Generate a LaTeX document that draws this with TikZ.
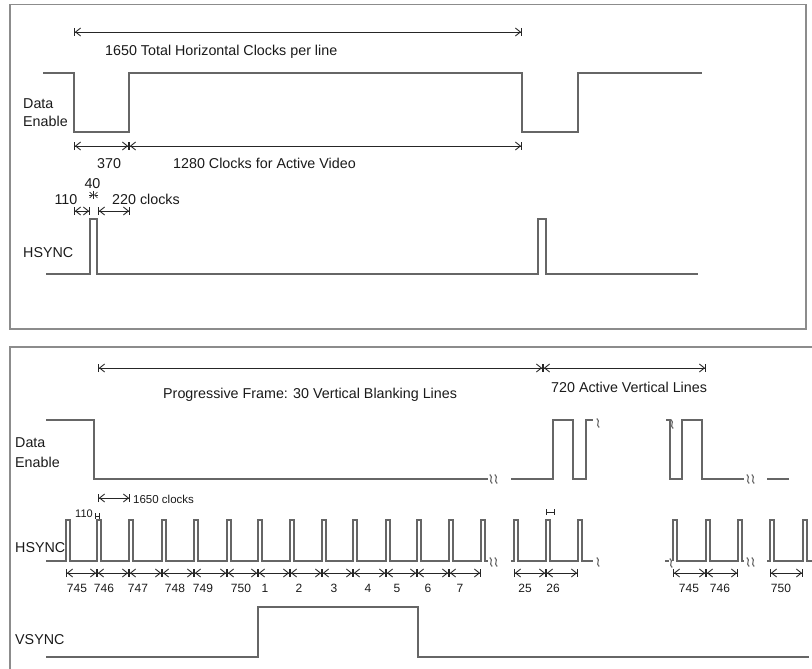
\documentclass[tikz,border=0pt]{standalone}
\usepackage{fontspec}
\setmainfont{Liberation Sans}
\usetikzlibrary{arrows.meta}
\definecolor{framec}{HTML}{8C8C8C}
\definecolor{sigc}{HTML}{666666}
\definecolor{dimc}{HTML}{262626}
\definecolor{txtc}{HTML}{1A1A1A}
\tikzset{
  frm/.style={draw=framec, line width=1.4pt},
  sig/.style={draw=sigc, line width=1.3pt, line join=miter},
  dimarrow/.style={draw=dimc, line width=0.9pt,
    {Bar[width=8pt]Straight Barb[length=5pt,width=8pt]}-{Straight Barb[length=5pt,width=8pt]Bar[width=8pt]}},
  tinymark/.style={draw=dimc, line width=0.7pt, {Bar[width=6pt]}-{Bar[width=6pt]}},
  lbl/.style={text=txtc, inner sep=0pt, font=\fontsize{14.3}{16}\selectfont},
  num/.style={text=txtc, inner sep=0pt, anchor=base, font=\fontsize{12}{14}\selectfont},
  brk/.pic={\draw[sigc, line width=1.1pt] (-1.2,-4.5) .. controls (3,-1.5) and (-3,1.5) .. (1.2,4.5);},
}
\begin{document}
\begin{tikzpicture}[x=1pt,y=-1pt]
\useasboundingbox (0,0) rectangle (812,669);
% ================= TOP PANEL =================
\draw[frm] (10,4.5) rectangle (806,329);
\coordinate (tA) at (74,32); \coordinate (tB) at (522,32);
\draw[dimarrow] (tA) -- (tB);
\node[lbl, anchor=base west] (ttot) at (105,56) {1650 Total Horizontal Clocks per line};
\node[lbl, anchor=base west] (tde1) at (23,108) {Data};
\node[lbl, anchor=base west] (tde2) at (23,127) {Enable};
\draw[sig] (43,73) -- (74,73) -- (74,132) -- (129,132) -- (129,73) -- (522,73) -- (522,132) -- (578,132) -- (578,73) -- (702,73);
\coordinate (aA) at (74,146); \coordinate (aB) at (129,146); \coordinate (aC) at (522,146);
\draw[dimarrow] (aA) -- (aB);
\draw[dimarrow] (aB) -- (aC);
\node[lbl, anchor=base west] (t370) at (97,168) {370};
\node[lbl, anchor=base west] (t1280) at (173,168) {1280 Clocks for Active Video};
\node[lbl, anchor=base] (t40) at (92.5,188) {40};
\node[lbl, anchor=base] (t110) at (66,204) {110};
\node[lbl, anchor=base west] (t220) at (112,204) {220 clocks};
\coordinate (hA) at (74,211); \coordinate (hB) at (90,211);
\coordinate (hC) at (98,211); \coordinate (hD) at (130,211);
\draw[dimarrow] (hA) -- (hB);
\draw[dimarrow] (hC) -- (hD);
\draw[dimc, line width=0.7pt] (93.5,191) -- (93.5,199);
\draw[dimc, line width=0.7pt, -{Straight Barb[length=3pt,width=6pt]}] (89,195) -- (93,195);
\draw[dimc, line width=0.7pt, -{Straight Barb[length=3pt,width=6pt]}] (98,195) -- (94,195);
\node[lbl, anchor=base west] (ths) at (23,257) {HSYNC};
\draw[sig] (46,274) -- (90,274) -- (90,219) -- (97,219) -- (97,274) -- (538,274) -- (538,219) -- (546,219) -- (546,274) -- (698,274);
% ================= BOTTOM PANEL =================
\draw[frm] (815,347) -- (10,347) -- (10,672);
\coordinate (bA) at (98,368); \coordinate (bB) at (543,368); \coordinate (bC) at (706,368);
\draw[dimarrow] (bA) -- (bB);
\draw[dimarrow] (bB) -- (bC);
\node[lbl, anchor=base west] (bprog) at (163,398) {Progressive Frame: 30 Vertical Blanking Lines};
\node[lbl, anchor=base west] (bact) at (551,392) {720 Active Vertical Lines};
\node[lbl, anchor=base west] (bde1) at (15,447) {Data};
\node[lbl, anchor=base west] (bde2) at (15,467) {Enable};
% Data enable
\draw[sig] (46,420) -- (94,420) -- (94,479) -- (488,479);
\pic at (491,479) {brk}; \pic at (496,479) {brk};
\draw[sig] (511,479) -- (553,479) -- (553,420) -- (573,420) -- (573,479) -- (586,479) -- (586,420) -- (593,420);
\pic at (598,423) {brk};
\draw[sig] (666,420) -- (670,420) -- (670,479) -- (682,479) -- (682,420) -- (702,420) -- (702,479) -- (744,479);
\pic at (672,424) {brk};
\pic at (748,479) {brk}; \pic at (753,479) {brk};
\draw[sig] (767,479) -- (789,479);
% 1650 clocks
\coordinate (cA) at (98,498); \coordinate (cB) at (130,498);
\draw[dimarrow] (cA) -- (cB);
\node[text=txtc, inner sep=0pt, anchor=base west, font=\fontsize{11.5}{13}\selectfont] (b1650) at (133,503) {1650 clocks};
\node[text=txtc, inner sep=0pt, anchor=base west, font=\fontsize{11}{13}\selectfont] (b110) at (75,517) {110};
\draw[tinymark] (94.5,516) -- (100,516);
\draw[tinymark] (546,512) -- (555,512);
\node[lbl, anchor=base west] (bhs) at (15,552) {HSYNC};
% HSYNC
\draw[sig] (46,561) \foreach \x in {66,97,129,162,194,227,258,290,322,353,386,417,449,481} { -- (\x,561) -- (\x,520) -- ({\x+4},520) -- ({\x+4},561) } -- (488,561);
\pic at (491,562) {brk}; \pic at (496,562) {brk};
\draw[sig] (511,561) \foreach \x in {514,546,578} { -- (\x,561) -- (\x,520) -- ({\x+4},520) -- ({\x+4},561) } -- (593,561);
\pic at (598,562) {brk};
\draw[sig] (665,561) -- (669,561);
\pic at (671,563) {brk};
\draw[sig] (673,561) \foreach \x in {673,706,738} { -- (\x,561) -- (\x,520) -- ({\x+4},520) -- ({\x+4},561) } -- (744,561);
\pic at (748,562) {brk}; \pic at (753,562) {brk};
\draw[sig] (767,561) \foreach \x in {770,803} { -- (\x,561) -- (\x,520) -- ({\x+4},520) -- ({\x+4},561) } -- (815,561);
% line-count arrows
\foreach \a/\b [count=\i] in {66/97,97/129,129/162,162/194,194/227,227/258,258/290,290/322,322/353,353/386,386/417,417/449,449/481,514/546,546/578,673/706,706/738,770/803} {
  \coordinate (L\i a) at (\a,573); \coordinate (L\i b) at (\b,573);
  \draw[dimarrow] (L\i a) -- (L\i b);
}
\foreach \t/\x [count=\i] in {745/77,746/104,747/138,748/175,749/203,750/241,1/265,2/299,3/334,4/368,5/397,6/428,7/460,25/525,26/553,745/689,746/720,750/781} {
  \node[num] (n\i) at (\x,592) {\t};
}
\node[lbl, anchor=base west] (bvs) at (15,644) {VSYNC};
\draw[sig] (46,657) -- (258,657) -- (258,607) -- (418,607) -- (418,657) -- (809,657);
\end{tikzpicture}
\end{document}
